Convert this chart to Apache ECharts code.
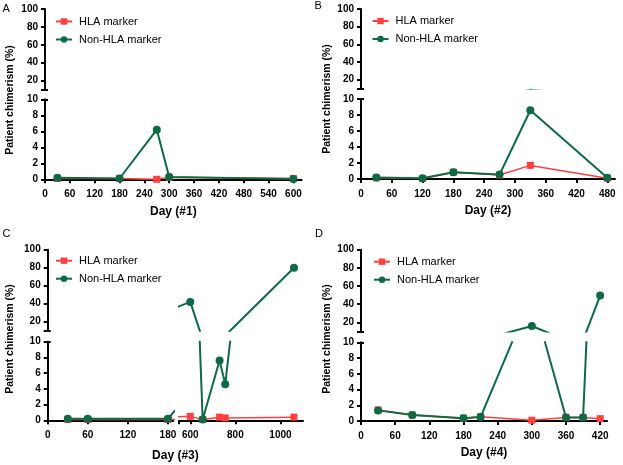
<!DOCTYPE html>
<html>
<head>
<meta charset="utf-8">
<script src="https://cdn.jsdelivr.net/npm/echarts@6/dist/echarts.min.js"></script>
<style>
html,body{margin:0;padding:0;background:#fff;}
#c{width:623px;height:465px;}
</style>
</head>
<body>
<div id="c"></div>
<script>
// ---------- data ----------
const seriesNames = ['HLA marker', 'Non-HLA marker'];

const daysA = [30, 180, 270, 300, 600];
const hlaA = [0.1, 0.1, 0.0, 0.25, 0.1];
const nonHlaA = [0.2, 0.1, 6.2, 0.3, 0.05];

const daysB = [30, 120, 180, 270, 330, 480];
const hlaB = [0.15, 0.05, 0.85, 0.5, 1.7, 0.1];
const nonHlaB = [0.2, 0.1, 0.85, 0.55, 8.6, 0.15];

const daysC = [30, 60, 180, 600, 655, 730, 755, 1060];
const hlaC = [0.1, 0.1, 0.1, 0.5, 0.1, 0.4, 0.3, 0.4];
const nonHlaC = [0.2, 0.2, 0.2, 42, 0.1, 7.6, 4.6, 80];

const daysD = [30, 90, 180, 210, 300, 360, 390, 420];
const hlaD = [1.4, 0.75, 0.35, 0.55, 0.1, 0.45, 0.45, 0.3];
const nonHlaD = [1.35, 0.75, 0.35, 0.5, 16, 0.45, 0.45, 49.5];

const yTicksLow = [0, 2, 4, 6, 8, 10];
const yTicksHigh = [20, 40, 60, 80, 100];
const xTicksA = [0, 60, 120, 180, 240, 300, 360, 420, 480, 540, 600];
const xTicksB = [0, 60, 120, 180, 240, 300, 360, 420, 480];
const xTicksCLeft = [0, 60, 120, 180];
const xTicksCRight = [600, 800, 1000];
const xTicksD = [0, 60, 120, 180, 240, 300, 360, 420];

const panelLabels = ['A', 'B', 'C', 'D'];
const xTitles = ['Day (#1)', 'Day (#2)', 'Day (#3)', 'Day (#4)'];
const yTitle = 'Patient chimerism (%)';

// ---------- styles ----------
const RED = '#FF3F3F';
const GREEN = '#0D6A44';
const FONT = 'Liberation Sans, Arial, Helvetica, sans-serif';
const AX = { color: '#000', width: 2 };
const plain = v => String(v);

const option = {
  animation: false,
  backgroundColor: '#fff',
  grid: [], xAxis: [], yAxis: [], series: [], legend: [], graphic: [],
};

function addCell(rect, cfg) {
  const gi = option.grid.length;
  option.grid.push(Object.assign({ containLabel: false }, rect));
  const xi = option.xAxis.length;
  const x = {
    gridIndex: gi, type: 'value', min: cfg.xRange[0], max: cfg.xRange[1],
    show: !!cfg.showX,
    axisLine: { show: true, onZero: false, lineStyle: AX },
    axisTick: { show: true, length: 4, lineStyle: AX, customValues: cfg.xTickVals || [] },
    axisLabel: { show: true, margin: 10, fontSize: 10, fontWeight: 'bold', color: '#000', fontFamily: FONT,
      customValues: cfg.xLabelVals || [], formatter: plain },
    splitLine: { show: false },
  };
  if (cfg.xName) {
    x.name = cfg.xName; x.nameLocation = 'middle'; x.nameGap = cfg.xNameGap || 26;
    x.nameTextStyle = { fontSize: 12, fontWeight: 'bold', color: '#000', fontFamily: FONT };
  }
  option.xAxis.push(x);
  const yi = option.yAxis.length;
  option.yAxis.push({
    gridIndex: gi, type: 'value', min: cfg.yRange[0], max: cfg.yRange[1],
    show: !!cfg.showY,
    axisLine: { show: true, onZero: false, lineStyle: AX },
    axisTick: { show: true, length: 4, lineStyle: AX, customValues: cfg.yTickVals },
    axisLabel: { show: true, margin: 7, fontSize: 10, fontWeight: 'bold', color: '#000', fontFamily: FONT,
      customValues: cfg.yLabelVals, formatter: plain },
    splitLine: { show: false },
  });
  if (cfg.showY) {
    // inner half of the axis-break marks
    option.yAxis.push({
      gridIndex: gi, type: 'value', min: cfg.yRange[0], max: cfg.yRange[1],
      position: 'left',
      axisLine: { show: false },
      axisTick: { show: true, inside: true, length: 3, lineStyle: AX, customValues: [10] },
      axisLabel: { show: false },
      splitLine: { show: false },
    });
  }
  const inside = v => v[0] >= cfg.xRange[0] && v[0] <= cfg.xRange[1] &&
                      v[1] >= cfg.yRange[0] && v[1] <= cfg.yRange[1];
  const sets = [[cfg.hla, 0], [cfg.non, 1]];
  sets.forEach(([vals, k]) => {
    const size = k === 0 ? 7 : 8;
    option.series.push({
      type: 'line',
      name: seriesNames[k],
      xAxisIndex: xi, yAxisIndex: yi,
      data: cfg.days.map((d, i) => [d, vals[i]]),
      symbol: k === 0 ? 'rect' : 'circle',
      symbolSize: v => (inside(v) ? size : 0),
      showAllSymbol: true,
      clip: true,
      itemStyle: { color: k === 0 ? RED : GREEN },
      lineStyle: { color: k === 0 ? RED : GREEN, width: k === 0 ? 1.5 : 2, join: 'round' },
      z: k === 0 ? 2 : 3,
      emphasis: { disabled: true },
    });
  });
}

function addPanel(p) {
  p.cells.forEach(c => {
    addCell(c.upper, {
      days: p.days, hla: p.hla, non: p.non,
      xRange: c.xRange, yRange: [10, 100], showX: false, showY: c.showY,
      yTickVals: [10].concat(yTicksHigh), yLabelVals: yTicksHigh,
    });
    addCell(c.lower, {
      days: p.days, hla: p.hla, non: p.non,
      xRange: c.xRange, yRange: [0, 10], showX: true, showY: c.showY,
      xTickVals: c.xTicks, xLabelVals: c.xLabels,
      xName: c.xName, xNameGap: c.xNameGap,
      yTickVals: yTicksLow, yLabelVals: yTicksLow,
    });
  });
  option.legend.push({
    left: p.legend[0], top: p.legend[1], orient: 'vertical', padding: 0,
    itemWidth: 16, itemHeight: 8, itemGap: 7,
    textStyle: { fontSize: 11, color: '#000', fontFamily: FONT, padding: [0, 0, 0, 2] },
    data: seriesNames,
  });
  option.graphic.push({
    type: 'text', x: p.yTitle[0], y: p.yTitle[1], rotation: Math.PI / 2,
    style: { text: yTitle, font: 'bold 10.5px ' + FONT, fill: '#000', align: 'center', verticalAlign: 'middle' },
  });
  option.graphic.push({
    type: 'text', x: p.letter[0], y: p.letter[1],
    style: { text: p.label, font: '11px ' + FONT, fill: '#000', align: 'left', verticalAlign: 'top' },
  });
  if (p.xTitle) {
    option.graphic.push({
      type: 'text', x: p.xTitle[0], y: p.xTitle[1],
      style: { text: p.xTitleText, font: 'bold 12px ' + FONT, fill: '#000', align: 'center', verticalAlign: 'middle' },
    });
  }
}

// Panel A
addPanel({
  label: panelLabels[0], days: daysA, hla: hlaA, non: nonHlaA,
  legend: [55, 16], yTitle: [10.5, 100], letter: [2.5, 3.5],
  cells: [{
    showY: true, xRange: [0, 620], xTicks: xTicksA, xLabels: xTicksA, xName: xTitles[0],
    upper: { left: 45, top: 9, width: 256.7, height: 80.5 },
    lower: { left: 45, top: 99.3, width: 256.7, height: 80 },
  }],
});
// Panel B
addPanel({
  label: panelLabels[1], days: daysB, hla: hlaB, non: nonHlaB,
  legend: [371.5, 15.5], yTitle: [326.7, 99], letter: [314.5, 0.5],
  cells: [{
    showY: true, xRange: [0, 495], xTicks: xTicksB, xLabels: xTicksB, xName: xTitles[1],
    upper: { left: 361, top: 9, width: 254, height: 79.5 },
    lower: { left: 361, top: 99, width: 254, height: 80 },
  }],
});
// Panel C (broken x axis)
addPanel({
  label: panelLabels[2], days: daysC, hla: hlaC, non: nonHlaC,
  legend: [55, 255.2], yTitle: [10.5, 339], letter: [2.5, 228],
  xTitle: [175.4, 455.7], xTitleText: xTitles[2],
  cells: [{
    showY: true, xRange: [0, 188], xTicks: xTicksCLeft, xLabels: xTicksCLeft,
    upper: { left: 47.7, top: 249.7, width: 125.6, height: 81 },
    lower: { left: 47.7, top: 341.7, width: 125.6, height: 78.6 },
  }, {
    showY: false, xRange: [550, 1100], xTicks: [550].concat(xTicksCRight), xLabels: xTicksCRight,
    upper: { left: 179, top: 249.7, width: 124, height: 81 },
    lower: { left: 179, top: 341.7, width: 124, height: 78.6 },
  }],
});
// Panel D
addPanel({
  label: panelLabels[3], days: daysD, hla: hlaD, non: nonHlaD,
  legend: [373, 256.2], yTitle: [326.8, 339], letter: [315, 228.5],
  cells: [{
    showY: true, xRange: [0, 432], xTicks: xTicksD, xLabels: xTicksD, xName: xTitles[3],
    upper: { left: 361, top: 249.7, width: 246, height: 81.7 },
    lower: { left: 361, top: 342.3, width: 246, height: 78.7 },
  }],
});

const chart = echarts.init(document.getElementById('c'), null, { renderer: 'canvas' });
chart.setOption(option);
</script>
</body>
</html>
